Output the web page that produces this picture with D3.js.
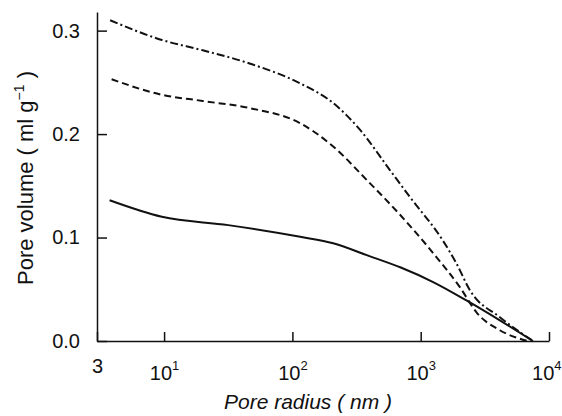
<!DOCTYPE html>
<html>
<head>
<meta charset="utf-8">
<script src="https://cdn.jsdelivr.net/npm/d3@7"></script>
<style>
  body { margin: 0; background: #fff; }
  text { font-family: "Liberation Sans", Arial, sans-serif; fill: #111; }
</style>
</head>
<body>
<script>
// chart data (radius in nm, volume in ml/g)
var xTicks = [3, 10, 100, 1000, 10000];
var yTicks = [0.0, 0.1, 0.2, 0.3];

var dashDotR = [3.8, 9.6, 20, 47, 115, 208, 337, 577, 826, 1490, 1900, 2420, 4140, 7500];
var dashDotV = [0.310, 0.291, 0.281, 0.268, 0.249, 0.230, 0.204, 0.165, 0.139, 0.097, 0.075, 0.049, 0.023, 0.0];

var dashedR = [3.9, 9.6, 20, 47, 115, 208, 380, 690, 1250, 2020, 2750, 4140, 6800];
var dashedV = [0.253, 0.238, 0.232, 0.225, 0.2105, 0.188, 0.1556, 0.122, 0.085, 0.052, 0.027, 0.0104, 0.0];

var solidR = [3.76, 9.6, 31.6, 115, 208, 380, 700, 1250, 2290, 4140, 7500];
var solidV = [0.136, 0.120, 0.112, 0.1007, 0.0945, 0.083, 0.071, 0.057, 0.039, 0.020, 0.0];

var w = 562, h = 416;

var svg = d3.select("body").append("svg")
    .attr("width", w)
    .attr("height", h);

var x = d3.scaleLog().domain([3, 10000]).range([97, 549]);
var y = d3.scaleLinear().domain([0, 0.318]).range([341, 12]);

// y axis, ticks pointing inward
var yAxis = svg.append("g")
    .attr("transform", "translate(97,0)")
    .call(d3.axisLeft(y).tickValues(yTicks).tickFormat(d3.format(".1f"))
        .tickSizeInner(-10).tickSizeOuter(0).tickPadding(17));
yAxis.selectAll("text").style("font-size", "20px").attr("fill", "#111");

// x axis
var xAxis = svg.append("g")
    .attr("transform", "translate(0,341)")
    .call(d3.axisBottom(x).tickValues(xTicks)
        .tickSizeInner(-9).tickSizeOuter(0).tickPadding(0));
xAxis.selectAll(".tick text").each(function(d) {
    var t = d3.select(this).text(null).attr("dy", null).style("font-size", "20px").attr("fill", "#111");
    if (d === 3) {
        t.attr("y", 32).text("3");
    } else {
        t.attr("y", 39);
        if (d === 10000) t.attr("text-anchor", "end").attr("x", 12);
        t.append("tspan").text("10");
        t.append("tspan").attr("dy", -10).style("font-size", "13px").text(Math.round(Math.log10(d)));
    }
});
svg.selectAll(".domain, .tick line").attr("stroke", "#111").attr("stroke-width", 1.5);

// curves
var line = d3.line()
    .x(function(d) { return x(d[0]); })
    .y(function(d) { return y(d[1]); })
    .curve(d3.curveMonotoneX);

function series(r, v) {
    return r.map(function(d, i) { return [d, v[i]]; });
}

svg.append("path").datum(series(dashDotR, dashDotV))
    .attr("d", line).attr("fill", "none").attr("stroke", "#111")
    .attr("stroke-width", 2).attr("stroke-dasharray", "8,3,2,3");

svg.append("path").datum(series(dashedR, dashedV))
    .attr("d", line).attr("fill", "none").attr("stroke", "#111")
    .attr("stroke-width", 2).attr("stroke-dasharray", "7,4");

svg.append("path").datum(series(solidR, solidV))
    .attr("d", line).attr("fill", "none").attr("stroke", "#111")
    .attr("stroke-width", 2);

// axis titles
svg.append("text")
    .attr("x", 308).attr("y", 409)
    .attr("text-anchor", "middle")
    .style("font-size", "21px")
    .style("font-style", "italic")
    .text("Pore radius ( nm )");

var yl = svg.append("text")
    .attr("transform", "translate(33,178) rotate(-90)")
    .attr("text-anchor", "middle")
    .style("font-size", "22px");
yl.append("tspan").text("Pore volume ( ml g");
yl.append("tspan").attr("dy", -9).style("font-size", "14px").text("\u22121");
yl.append("tspan").attr("dy", 9).text(" )");
</script>
</body>
</html>
